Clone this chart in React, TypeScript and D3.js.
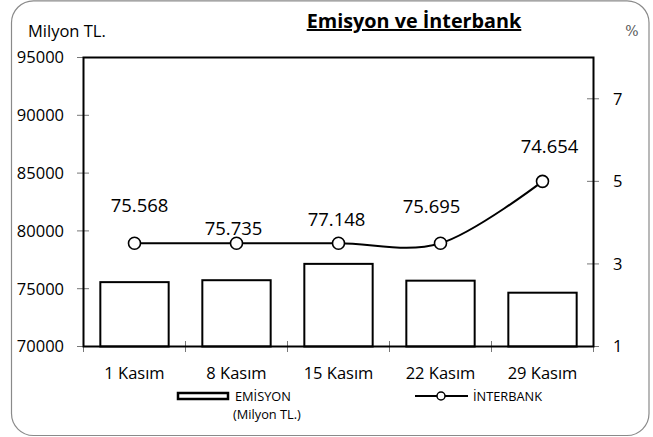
import React from "react";
import * as d3 from "d3";

const categories = ["1 Kasım", "8 Kasım", "15 Kasım", "22 Kasım", "29 Kasım"];
const emisyon = [75568, 75735, 77148, 75695, 74654];
const emisyonLabels = ["75.568", "75.735", "77.148", "75.695", "74.654"];
const interbank = [3.5, 3.5, 3.5, 3.5, 5.0];
const leftTicks = [70000, 75000, 80000, 85000, 90000, 95000];
const rightTicks = [1, 3, 5, 7];
// label offsets relative to line markers (layout only)
const labelOffsets: [number, number][] = [
  [5, -31],
  [-3, -8],
  [-2, -17],
  [-9, -30],
  [7, -28],
];

const FONT = "'Open Sans', 'Noto Sans', sans-serif";

export default function App() {
  const W = 653;
  const H = 437;
  const left = 83.5;
  const right = 593.5;
  const top = 57.5;
  const bottom = 346.5;

  const x = d3
    .scaleBand<string>()
    .domain(categories)
    .range([left, right])
    .paddingInner(0.33)
    .paddingOuter(0.165);
  const yL = d3.scaleLinear().domain([70000, 95000]).range([bottom, top]);
  const yR = d3.scaleLinear().domain([1, 8]).range([bottom, top]);

  const pts: [number, number][] = categories.map((c, i) => [
    (x(c) as number) + x.bandwidth() / 2,
    yR(interbank[i]),
  ]);
  const line = d3.line().curve(d3.curveCardinal.tension(0))(pts) as string;

  const step = x.step();
  const boundaries = d3.range(categories.length + 1).map((i) => left + i * step);

  return (
    <svg
      width={W}
      height={H}
      style={{ position: "absolute", left: 0, top: 0, background: "#fff" }}
      fontFamily={FONT}
    >
      <rect x={11.5} y={0.8} width={637.5} height={434.7} rx={22} ry={22} fill="#fff" stroke="#8a8a8a" strokeWidth={1.2} />

      {/* title */}
      <text x={414} y={28} textAnchor="middle" fontSize={19.8} fontWeight="bold" textDecoration="underline" fill="#000">
        Emisyon ve İnterbank
      </text>
      <text x={28} y={37} fontSize={16.5} fill="#000">Milyon TL.</text>
      <text x={632} y={36} textAnchor="middle" fontSize={14} fontFamily="'DejaVu Serif', serif" fill="#555">%</text>

      {/* bars */}
      {categories.map((c, i) => (
        <rect
          key={c}
          x={x(c)}
          y={yL(emisyon[i])}
          width={x.bandwidth()}
          height={bottom - yL(emisyon[i])}
          fill="#fff"
          stroke="#000"
          strokeWidth={2}
        />
      ))}

      {/* ticks */}
      {leftTicks.map((t) => (
        <g key={"l" + t}>
          <line x1={77} x2={t === 95000 ? left : 89} y1={yL(t)} y2={yL(t)} stroke="#777" strokeWidth={1} />
          <text x={64} y={yL(t)} dy="0.36em" textAnchor="end" fontSize={16.5} fill="#000">{t}</text>
        </g>
      ))}
      {rightTicks.map((t) => (
        <g key={"r" + t}>
          <line x1={587} x2={599} y1={yR(t)} y2={yR(t)} stroke="#777" strokeWidth={1} />
          <text x={613} y={yR(t)} dy="0.36em" fontSize={16.5} fill="#000">{t}</text>
        </g>
      ))}
      {boundaries.map((b, i) => (
        <line key={"b" + i} x1={b} x2={b} y1={341} y2={352} stroke="#777" strokeWidth={1} />
      ))}
      {categories.map((c) => (
        <text key={"c" + c} x={(x(c) as number) + x.bandwidth() / 2} y={379} textAnchor="middle" fontSize={16.5} fill="#000">
          {c}
        </text>
      ))}

      {/* plot box */}
      <rect x={left} y={top} width={right - left} height={bottom - top} fill="none" stroke="#000" strokeWidth={2} />

      {/* line */}
      <path d={line} fill="none" stroke="#000" strokeWidth={2} />
      {pts.map((p, i) => (
        <circle key={"p" + i} cx={p[0]} cy={p[1]} r={6} fill="#fff" stroke="#000" strokeWidth={1.6} />
      ))}

      {/* data labels */}
      {pts.map((p, i) => (
        <text key={"dl" + i} x={p[0] + labelOffsets[i][0]} y={p[1] + labelOffsets[i][1]} textAnchor="middle" fontSize={18.5} fill="#000">
          {emisyonLabels[i]}
        </text>
      ))}

      {/* legend */}
      <rect x={178} y={393} width={50} height={6} fill="#fff" stroke="#000" strokeWidth={2.5} />
      <text x={235} y={400.5} fontSize={12.8} fill="#000">EMİSYON</text>
      <text x={233} y={418.5} fontSize={12.8} fill="#000">(Milyon TL.)</text>
      <line x1={415} x2={468} y1={396} y2={396} stroke="#000" strokeWidth={2} />
      <circle cx={441} cy={396} r={4} fill="#fff" stroke="#000" strokeWidth={1.5} />
      <text x={473} y={400.5} fontSize={12.8} fill="#000">İNTERBANK</text>
    </svg>
  );
}
